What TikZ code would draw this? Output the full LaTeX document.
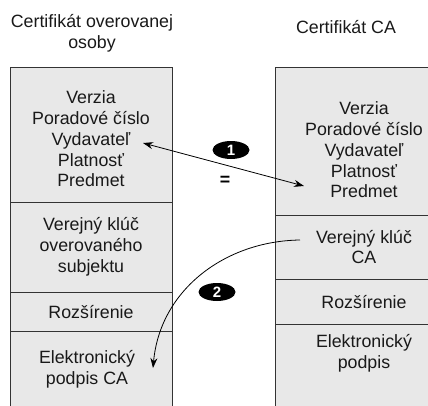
\documentclass[tikz,border=0pt]{standalone}
\usepackage{fontspec}
\setmainfont{Liberation Sans}
\usetikzlibrary{
    positioning,
    arrows.meta,
    shapes.geometric
  }
\tikzstyle{cell}=[draw=black!80, line width=1pt, fill=black!9, outer sep=0pt, inner sep=0pt]
\tikzstyle{lbl}=[align=center, text=black!90, font=\fontsize{17.8}{20.8}\selectfont, inner sep=1pt]
\tikzstyle{badge}=[ellipse, fill=black, text=white, font=\bfseries\fontsize{15}{15}\selectfont, minimum width=37pt, minimum height=18pt, inner sep=0pt]
\tikzstyle{tip}=[>={Stealth[length=10pt,width=7pt]}, line width=0.8pt]

\begin{document}
\begin{tikzpicture}[x=1pt, y=-1pt]
  \clip (0,0) rectangle (428,405);
  % left certificate
  \node [lbl] (lh) at (92,33) {Certifikát overovanej\\osoby};
  \node [cell, minimum width=162pt, minimum height=135pt, anchor=north west] (l1) at (10,67) {};
  \node [cell, minimum width=162pt, minimum height=90pt, below=0pt of l1] (l2) {};
  \node [cell, minimum width=162pt, minimum height=39pt, below=0pt of l2] (l3) {};
  \node [cell, minimum width=162pt, minimum height=100pt, below=0pt of l3] (l4) {};
  \node [lbl] (l1t) at (91,139) {Verzia\\Poradové číslo\\Vydavateľ\\Platnosť\\Predmet};
  \node [lbl] (l2t) at (91,247) {Verejný klúč\\overovaného\\subjektu};
  \node [lbl] (l3t) at (91,312) {Rozšírenie};
  \node [lbl] (l4t) at (87,369) {Elektronický\\podpis CA};
%
  % CA certificate
  \node [lbl] (rh) at (346,27) {Certifikát CA};
  \node [cell, minimum width=178pt, minimum height=148pt, anchor=north west] (r1) at (275,67) {};
  \node [cell, minimum width=178pt, minimum height=64pt, below=0pt of r1] (r2) {};
  \node [cell, minimum width=178pt, minimum height=45pt, below=0pt of r2] (r3) {};
  \node [cell, minimum width=178pt, minimum height=100pt, below=0pt of r3] (r4) {};
  \node [lbl] (r1t) at (364,150) {Verzia\\Poradové číslo\\Vydavateľ\\Platnosť\\Predmet};
  \node [lbl] (r2t) at (364,247) {Verejný klúč\\CA};
  \node [lbl] (r3t) at (364,302) {Rozšírenie};
  \node [lbl] (r4t) at (364,353) {Elektronický\\podpis};
%
  % step 1: same data
  \coordinate (a1) at (143,143);
  \coordinate (b1) at (304,186);
  \draw [tip, <->] (a1) -- (b1);
  \node [badge] (n1) at (231,150) {1};
  \node [font=\bfseries\fontsize{17.8}{20.8}\selectfont] (eq) at (225,181) {=};
%
  % step 2: key of CA
  \coordinate (a2) at (300,240);
  \coordinate (b2) at (153,368);
  \draw [tip, ->] (a2) .. controls (225,241) and (160,290) .. (b2);
  \node [badge] (n2) at (217,292) {2};
\end{tikzpicture}
\end{document}
